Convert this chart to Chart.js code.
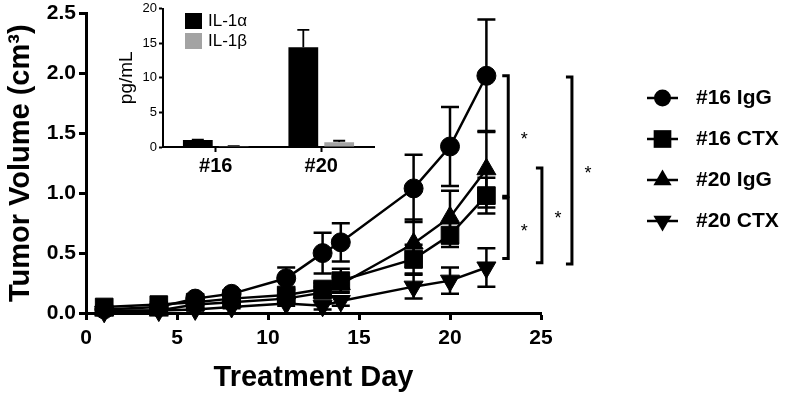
<!DOCTYPE html>
<html>
<head>
<meta charset="utf-8">
<script src="https://cdn.jsdelivr.net/npm/chart.js@4.4.1/dist/chart.umd.min.js"></script>
<style>
  body { margin: 0; background: #fff; }
  #wrap { position: relative; width: 787px; height: 396px; }
  #mainChart { position: absolute; left: 0; top: 0; }
  #insetChart { position: absolute; left: 100px; top: 0; }
</style>
</head>
<body>
<div id="wrap">
  <canvas id="mainChart" width="787" height="396"></canvas>
  <canvas id="insetChart" width="290" height="185"></canvas>
</div>
<script>
var FONT = "'Liberation Sans', Arial, Helvetica, sans-serif";

// tumor growth, mean and SEM per treatment day
var days = [1, 4, 6, 8, 11, 13, 14, 18, 20, 22];
var igg16 = [0.03, 0.05, 0.12, 0.16, 0.29, 0.50, 0.59, 1.04, 1.39, 1.98];
var igg16Err = [0.01, 0.01, 0.02, 0.03, 0.09, 0.17, 0.16, 0.28, 0.33, 0.47];
var ctx16 = [0.05, 0.07, 0.09, 0.12, 0.15, 0.20, 0.27, 0.45, 0.65, 0.98];
var ctx16Err = [0.01, 0.02, 0.02, 0.02, 0.04, 0.05, 0.10, 0.12, 0.10, 0.15];
var igg20 = [0.02, 0.02, 0.07, 0.09, 0.12, 0.17, 0.24, 0.58, 0.80, 1.20];
var igg20Err = [0.01, 0.01, 0.02, 0.02, 0.03, 0.05, 0.06, 0.20, 0.22, 0.32];
var ctx20 = [0.01, 0.02, 0.03, 0.05, 0.08, 0.06, 0.10, 0.22, 0.27, 0.38];
var ctx20Err = [0.01, 0.01, 0.01, 0.01, 0.02, 0.03, 0.04, 0.10, 0.11, 0.16];

// significance brackets (day position, top and bottom volume)
var bracketDay = [23.2, 23.2, 25.05, 26.7];
var bracketTop = [1.98, 0.96, 1.21, 1.97];
var bracketBottom = [0.975, 0.455, 0.42, 0.41];
var bracketLabel = ['*', '*', '*', '*'];

// inset: cytokine levels
var cytoCats = ['#16', '#20'];
var il1a = [1.0, 14.4];
var il1aErr = [0.05, 2.5];
var il1b = [0.1, 0.7];
var il1bErr = [0.02, 0.2];

function makeSeries(label, values, errors, style, radius, rotation) {
    return {
        label: label,
        data: days.map(function (d, i) { return { x: d, y: values[i] }; }),
        errors: errors,
        borderColor: '#000',
        borderWidth: 2.5,
        backgroundColor: '#000',
        pointStyle: style,
        pointRadius: radius,
        pointRotation: rotation,
        pointBackgroundColor: '#000',
        pointBorderColor: '#000',
        pointBorderWidth: 1,
        tension: 0,
        clip: false
    };
}

// draws a marker for the custom legend
function drawMarker(ctx, style, rot, x, y, r) {
    ctx.beginPath();
    if (style === 'circle') {
        ctx.arc(x, y, r, 0, Math.PI * 2);
    } else if (style === 'rect') {
        var s = r * Math.SQRT1_2;
        ctx.rect(x - s, y - s, 2 * s, 2 * s);
    } else {
        var a = rot * Math.PI / 180;
        for (var k = 0; k < 3; k++) {
            var px = x + Math.sin(a) * r, py = y - Math.cos(a) * r;
            if (k === 0) ctx.moveTo(px, py); else ctx.lineTo(px, py);
            a += Math.PI * 2 / 3;
        }
        ctx.closePath();
    }
    ctx.fill();
}

var errorBarPlugin = {
    id: 'errorBars',
    beforeDatasetsDraw: function (chart) {
        var ctx = chart.ctx;
        var yScale = chart.scales.y;
        chart.data.datasets.forEach(function (ds, i) {
            if (!ds.errors) return;
            var meta = chart.getDatasetMeta(i);
            ctx.save();
            ctx.strokeStyle = '#000';
            ctx.lineWidth = ds.errorLineWidth || 2.5;
            meta.data.forEach(function (pt, j) {
                var v = typeof ds.data[j] === 'object' ? ds.data[j].y : ds.data[j];
                var e = ds.errors[j];
                var half = ds.capHalf || 9;
                var yHi = yScale.getPixelForValue(v + e);
                var yLo = ds.upOnly ? yScale.getPixelForValue(v) : yScale.getPixelForValue(v - e);
                ctx.beginPath();
                ctx.moveTo(pt.x, yLo);
                ctx.lineTo(pt.x, yHi);
                ctx.moveTo(pt.x - half, yHi);
                ctx.lineTo(pt.x + half, yHi);
                if (!ds.upOnly) {
                    ctx.moveTo(pt.x - half, yLo);
                    ctx.lineTo(pt.x + half, yLo);
                }
                ctx.stroke();
            });
            ctx.restore();
        });
    }
};

var bracketPlugin = {
    id: 'brackets',
    afterDraw: function (chart) {
        var ctx = chart.ctx;
        var xs = chart.scales.x, ys = chart.scales.y;
        ctx.save();
        ctx.strokeStyle = '#000';
        ctx.lineWidth = 3;
        ctx.fillStyle = '#000';
        ctx.font = '18px ' + FONT;
        ctx.textAlign = 'center';
        ctx.textBaseline = 'middle';
        bracketDay.forEach(function (d, k) {
            var x = xs.getPixelForValue(d);
            var yT = ys.getPixelForValue(bracketTop[k]);
            var yB = ys.getPixelForValue(bracketBottom[k]);
            ctx.beginPath();
            ctx.moveTo(x - 6, yT);
            ctx.lineTo(x, yT);
            ctx.lineTo(x, yB);
            ctx.lineTo(x - 6, yB);
            ctx.stroke();
            ctx.fillText(bracketLabel[k], x + 16, (yT + yB) / 2 + 4);
        });
        ctx.restore();
    }
};

var legendPlugin = {
    id: 'sideLegend',
    afterDraw: function (chart) {
        var ctx = chart.ctx;
        ctx.save();
        ctx.fillStyle = '#000';
        ctx.strokeStyle = '#000';
        ctx.lineWidth = 2.5;
        ctx.font = 'bold 21px ' + FONT;
        ctx.textAlign = 'left';
        ctx.textBaseline = 'middle';
        chart.data.datasets.forEach(function (ds, i) {
            var y = 98 + i * 41;
            ctx.beginPath();
            ctx.moveTo(647, y);
            ctx.lineTo(678, y);
            ctx.stroke();
            var r = ds.pointStyle === 'circle' ? 8.5 : (ds.pointStyle === 'rect' ? 12.5 : 10.5);
            drawMarker(ctx, ds.pointStyle, ds.pointRotation, 662.5, y, r);
            ctx.fillText(ds.label, 696, y);
        });
        ctx.restore();
    }
};

new Chart(document.getElementById('mainChart'), {
    type: 'line',
    data: {
        datasets: [
            makeSeries('#16 IgG', igg16, igg16Err, 'circle', 9.5, 0),
            makeSeries('#16 CTX', ctx16, ctx16Err, 'rect', 12.5, 0),
            makeSeries('#20 IgG', igg20, igg20Err, 'triangle', 11, 0),
            makeSeries('#20 CTX', ctx20, ctx20Err, 'triangle', 11, 180)
        ]
    },
    options: {
        responsive: false,
        animation: false,
        events: [],
        layout: { padding: { left: 0, top: 10, right: 246, bottom: 0 } },
        plugins: { legend: { display: false }, tooltip: { enabled: false } },
        scales: {
            x: {
                type: 'linear',
                min: 0,
                max: 25,
                ticks: { stepSize: 5, color: '#000', padding: 6,
                    font: { family: FONT, size: 21, weight: 'bold' } },
                grid: { drawOnChartArea: false, tickLength: 7, tickWidth: 3, tickColor: '#000' },
                border: { color: '#000', width: 3 },
                title: { display: true, text: 'Treatment Day', color: '#000',
                    font: { family: FONT, size: 29, weight: 'bold' }, padding: { top: 0, bottom: 1 } },
                afterFit: function (s) { s.height = 83; }
            },
            y: {
                min: 0,
                max: 2.5,
                ticks: { stepSize: 0.5, color: '#000', padding: 3,
                    callback: function (v) { return v.toFixed(1); },
                    font: { family: FONT, size: 21, weight: 'bold', lineHeight: 0.9 } },
                grid: { drawOnChartArea: false, tickLength: 7, tickWidth: 3, tickColor: '#000' },
                border: { color: '#000', width: 3 },
                title: { display: true, text: 'Tumor Volume (cm³)', color: '#000',
                    font: { family: FONT, size: 29, weight: 'bold' }, padding: { top: 4, bottom: 0 } },
                afterFit: function (s) { s.width = 86; }
            }
        }
    },
    plugins: [errorBarPlugin, bracketPlugin, legendPlugin]
});

var insetLegendPlugin = {
    id: 'insetLegend',
    afterDraw: function (chart) {
        var ctx = chart.ctx;
        ctx.save();
        ctx.font = '17px ' + FONT;
        ctx.textAlign = 'left';
        ctx.textBaseline = 'middle';
        chart.data.datasets.forEach(function (ds, i) {
            var y = 13 + i * 20;
            ctx.fillStyle = ds.backgroundColor;
            ctx.fillRect(85, y, 17, 16);
            ctx.fillStyle = '#000';
            ctx.fillText(ds.label, 108, y + 8);
        });
        ctx.restore();
    }
};

new Chart(document.getElementById('insetChart'), {
    type: 'bar',
    data: {
        labels: cytoCats,
        datasets: [
            { label: 'IL-1α', data: il1a, errors: il1aErr, upOnly: true, capHalf: 6, errorLineWidth: 1.8,
              backgroundColor: '#000', categoryPercentage: 0.68, barPercentage: 0.83 },
            { label: 'IL-1β', data: il1b, errors: il1bErr, upOnly: true, capHalf: 6, errorLineWidth: 1.8,
              backgroundColor: '#a3a3a3', categoryPercentage: 0.68, barPercentage: 0.83 }
        ]
    },
    options: {
        responsive: false,
        animation: false,
        events: [],
        layout: { padding: { left: 0, top: 7, right: 16, bottom: 0 } },
        plugins: { legend: { display: false }, tooltip: { enabled: false } },
        scales: {
            x: {
                ticks: { color: '#000', padding: 2, font: { family: FONT, size: 20, weight: 'bold' } },
                grid: { offset: false, drawOnChartArea: false, tickLength: 5, tickWidth: 2, tickColor: '#000' },
                border: { color: '#000', width: 2 },
                afterFit: function (s) { s.height = 38; }
            },
            y: {
                min: 0,
                max: 20,
                ticks: { stepSize: 5, color: '#000', padding: 2,
                    font: { family: FONT, size: 13, lineHeight: 1 } },
                grid: { drawOnChartArea: false, tickLength: 4, tickWidth: 2, tickColor: '#000' },
                border: { color: '#000', width: 2 },
                title: { display: true, text: 'pg/mL', color: '#000',
                    font: { family: FONT, size: 19 }, padding: { top: 15, bottom: 0 } },
                afterFit: function (s) { s.width = 63; }
            }
        }
    },
    plugins: [errorBarPlugin, insetLegendPlugin]
});
</script>
</body>
</html>
